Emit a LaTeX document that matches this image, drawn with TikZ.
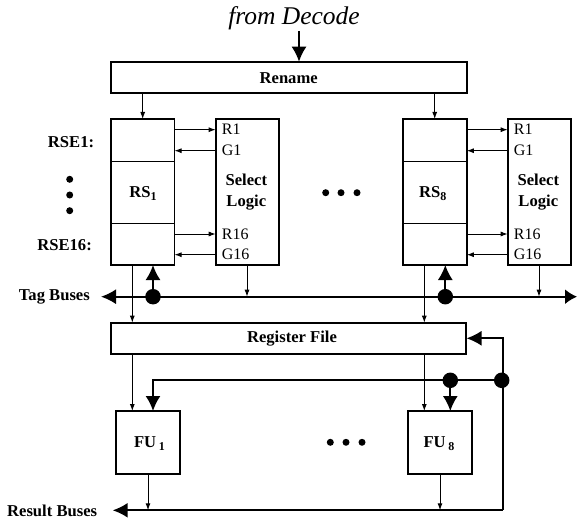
\documentclass[tikz,border=0pt]{standalone}
\usepackage{fontspec}
\setmainfont{Liberation Serif}
\usetikzlibrary{arrows.meta}
\newcommand{\subdig}[1]{\raisebox{-3.5pt}{\fontsize{12}{13}\selectfont #1}}
\tikzset{
  x=1pt,y=-1pt,
  box/.style={draw,line width=1.9pt,minimum width=#1,inner sep=0pt,outer sep=0pt,anchor=north west},
  thin conn/.style={line width=0.95pt,-{Latex[length=7pt,width=5pt]}},
  busarrow/.style={line width=1.8pt,-{Latex[length=15pt,width=15pt]}},
  dot/.style={circle,fill=black,minimum size=15.5pt,inner sep=0pt},
  smalldot/.style={circle,fill=black,minimum size=7pt,inner sep=0pt},
  lbl/.style={font=\bfseries\fontsize{16.6}{19}\selectfont,inner sep=0pt},
  plain/.style={font=\fontsize{16}{18}\selectfont,inner sep=0pt,anchor=west},
  sel/.style={font=\bfseries\fontsize{16.6}{21}\selectfont,inner sep=0pt,align=center},
  sub/.style={font=\bfseries\fontsize{16.6}{19}\selectfont,inner sep=0pt}
}
\begin{document}
\begin{tikzpicture}
\useasboundingbox (0,0) rectangle (577,521);
\fill[white] (0,0) rectangle (577,521);
\node[font=\itshape\fontsize{25.5}{28}\selectfont,inner sep=0pt] (from) at (294,18) {from Decode};
% boxes
\node[box=355.7pt,minimum height=31pt] (rename) at (111,61.7) {};
\node[lbl] at (288.7,78) {Rename};
\node[box=63.5pt,minimum height=146pt] (rsa) at (111,119) {};
\node[box=63.5pt,minimum height=146pt] (rsb) at (403.3,119) {};
\node[box=63pt,minimum height=146pt] (sla) at (215.7,119) {};
\node[box=63pt,minimum height=146pt] (slb) at (507.7,119) {};
\node[box=355.3pt,minimum height=31.5pt] (reg) at (111,322.7) {};
\node[lbl] at (292,338.5) {Register File};
\node[box=63.4pt,minimum height=63pt] (fua) at (116.3,411) {};
\node[box=63.4pt,minimum height=63pt] (fub) at (408.3,411) {};
\node[sub] at (149.5,443.5) {FU\,\subdig{1}};
\node[sub] at (439,443.5) {FU\,\subdig{8}};
\node[sub] at (143,193.5) {RS\subdig{1}};
\node[sub] at (432.7,193.5) {RS\subdig{8}};
\node[sel] at (246.3,192) {Select\\Logic};
\node[sel] at (538.3,192) {Select\\Logic};
% separators
\draw[line width=0.95pt] (rsa.north west |- 0,161) -- (rsa.north east |- 0,161);
\draw[line width=0.95pt] (rsa.north west |- 0,223.7) -- (rsa.north east |- 0,223.7);
\draw[line width=0.95pt] (rsb.north west |- 0,161) -- (rsb.north east |- 0,161);
\draw[line width=0.95pt] (rsb.north west |- 0,223.7) -- (rsb.north east |- 0,223.7);
% signal labels and arrows
\foreach \s/\x/\r/\l in {sla/215.7/rsa/a,slb/507.7/rsb/b}{
  \node[plain] at (\x+6,129.7) {R1};
  \node[plain] at (\x+6,150.7) {G1};
  \node[plain] at (\x+6,234) {R16};
  \node[plain] at (\x+6,254.7) {G16};
  \draw[thin conn] (\r.east |- 0,129.7) -- (\s.west |- 0,129.7);
  \draw[thin conn] (\s.west |- 0,150.7) -- (\r.east |- 0,150.7);
  \draw[thin conn] (\r.east |- 0,234) -- (\s.west |- 0,234);
  \draw[thin conn] (\s.west |- 0,254.7) -- (\r.east |- 0,254.7);
}
% left labels
\node[lbl,anchor=east] at (94.3,141.7) {RSE1:};
\node[lbl,anchor=east] at (92,245) {RSE16:};
\node[lbl,anchor=east] at (90,297) {Tag Buses};
\node[lbl,anchor=east] at (97.3,510.7) {Result Buses};
\node[smalldot] at (69.7,179.3) {};
\node[smalldot] at (69.7,195) {};
\node[smalldot] at (69.7,210.7) {};
\foreach \x in {325.7,341,357}{\node[smalldot] at (\x,192.7) {};}
\foreach \x in {330.3,346,362}{\node[smalldot] at (\x,442.3) {};}
% rename arrows
\coordinate (top) at (299,31);
\draw[busarrow] (top) -- (top |- rename.north);
\draw[thin conn] (142.7,93) -- (142.7,119);
\draw[thin conn] (434.7,93) -- (434.7,119);
% tag buses
\coordinate (tl) at (101,296.7);
\coordinate (tr) at (577,296.7);
\node[dot] (da) at (153,296.7) {};
\node[dot] (db) at (445.3,296.7) {};
\draw[line width=1.8pt,{Latex[length=15pt,width=15pt]}-{Latex[length=12pt,width=15pt]}] (tl) -- (tr);
\draw[busarrow] (da.center) -- (153,265);
\draw[busarrow] (db.center) -- (445.3,265);
\draw[thin conn] (247,265) -- (247,296.7);
\draw[thin conn] (539,265) -- (539,296.7);
\draw[thin conn] (132.3,265) -- (132.3,322.7);
\draw[thin conn] (424.3,265) -- (424.3,322.7);
% register to FU
\draw[thin conn] (132.3,354) -- (132.3,411);
\draw[thin conn] (424.3,354) -- (424.3,411);
% forwarding
\node[dot] (dc) at (450.3,380.3) {};
\node[dot] (dd) at (501.7,380.3) {};
\draw[busarrow] (dd.center) -- (153,380.3) -- (153,411);
\draw[busarrow] (dc.center) -- (450.3,411);
% result bus
\draw[thin conn] (148,474) -- (148,510.3);
\draw[thin conn] (440,474) -- (440,510.3);
\draw[busarrow] (502.7,510.3) -- (112.7,510.3);
\draw[busarrow] (502.7,510.3) -- (502.7,338.3) -- (466.5,338.3);
\end{tikzpicture}
\end{document}
